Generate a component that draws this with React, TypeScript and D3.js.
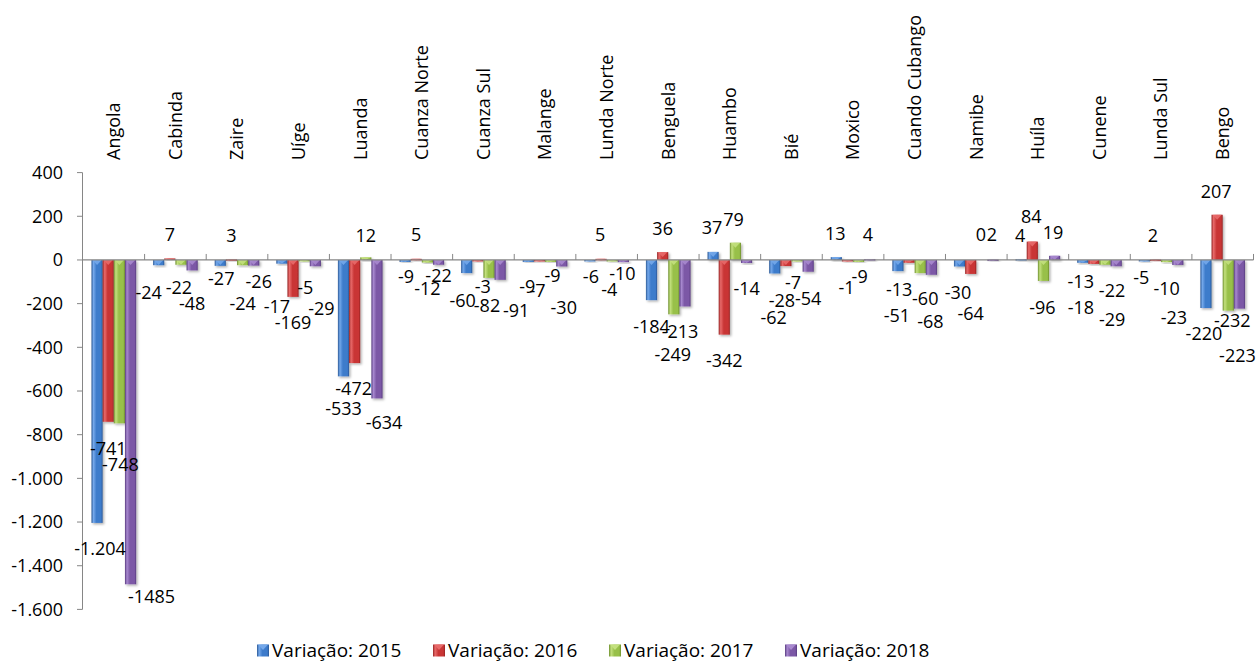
import React from "react";
import * as d3 from "d3";

const categories = [
  "Angola", "Cabinda", "Zaire", "Uíge", "Luanda", "Cuanza Norte", "Cuanza Sul", "Malange",
  "Lunda Norte", "Benguela", "Huambo", "Bié", "Moxico", "Cuando Cubango", "Namibe", "Huíla",
  "Cunene", "Lunda Sul", "Bengo",
];

const seriesNames = ["Variação: 2015", "Variação: 2016", "Variação: 2017", "Variação: 2018"];

const v2015 = [-1204, -24, -27, -17, -533, -9, -60, -9, -6, -184, 37, -62, 13, -51, -30, 4, -13, -5, -220];
const v2016 = [-741, 7, 3, -169, -472, 5, -3, -7, 5, 36, -342, -28, -1, -13, -64, 84, -18, 2, 207];
const v2017 = [-748, -22, -24, -5, 12, -12, -82, -9, -4, -249, 79, -7, -9, -60, 0, -96, -22, -10, -232];
const v2018 = [-1485, -48, -26, -29, -634, -22, -91, -30, -10, -213, -14, -54, 4, -68, 2, 19, -29, -23, -223];

const yTicks = [400, 200, 0, -200, -400, -600, -800, -1000, -1200, -1400, -1600];

// manual label nudges (px) relative to each bar's end, as in the original chart
const nudge2015 = [[3,26],[-10,27],[1,13],[-5,43],[0,32],[1,15],[-4,27.5],[-1,25],[1,15],[0,27],[-1,-24],[-1,44.5],[-1,-23],[-1,45],[-1.5,26.5],[-1,-23],[-2,19],[-3,17],[-2,26]];
const nudge2016 = [[0,27],[0,-23.5],[0,-24],[0,26],[-1,26],[0,-24],[5,26],[-2,29.5],[-1,-24],[0,-23],[0,26],[-4,35],[-1,27.5],[-10,27],[0,40],[-1,-24.7],[-13,44],[-2.5,-23.6],[-1,-23]];
const nudge2017 = [[1,41],[-2,23],[0,38],[1,26.5],[0,-22],[0,26.5],[-2,28],[2,14],[-3,29],[-1,40],[-2,-23],[-4,21],[1,15],[5,26],[-1,-25],[-1,26.7],[7,26],[0,27],[4,10]];
const nudge2018 = [[21,12],[0,33.5],[5,16],[6,42],[7,24.5],[0,11],[16,31],[2,41.5],[-1,12],[-5,25.5],[0,26],[0,27],[-2,-24],[-1,47],[-1,-24.6],[-1.5,-23.2],[-4,53],[-4,53],[-2,47]];

const seriesValues = [v2015, v2016, v2017, v2018];
const seriesNudges = [nudge2015, nudge2016, nudge2017, nudge2018];

const palette = [
  { base: "#3d7bcb", dark: "#2a5896", light: "#74a8ea" },
  { base: "#c93636", dark: "#952222", light: "#e86a6a" },
  { base: "#98c04a", dark: "#6d8f2c", light: "#c3e07e" },
  { base: "#7c58a6", dark: "#573b7f", light: "#a889cf" },
];

const W = 1260;
const H = 671;
const FONT = "'Open Sans', sans-serif";

const locDot = d3.formatLocale({ decimal: ",", thousands: ".", grouping: [3], currency: ["", ""], minus: "-" });
const fmtTick = locDot.format(",d");
const fmtPlain = locDot.format("d");
const labelFormats = [locDot.format(",d"), fmtPlain, fmtPlain, fmtPlain];

export default function App() {
  const x0 = d3.scaleBand<string>().domain(categories).range([83, 1253.5]).paddingInner(0).paddingOuter(0);
  const x1 = d3.scaleBand<string>().domain(seriesNames).range([0, x0.bandwidth()]).paddingInner(0).paddingOuter(0.76);
  const y = d3.scaleLinear().domain([-1600, 400]).range([609.4, 172.6]);
  const y0 = y(0);
  const bw = x1.bandwidth();

  const legendX = d3.scalePoint<string>().domain(seriesNames).range([257, 785]);

  return (
    <svg width={W} height={H} style={{ position: "absolute", left: 0, top: 0, background: "#fff" }} fontFamily={FONT}>
      <defs>
        {palette.map((p, i) => (
          <linearGradient key={i} id={`g${i}`} x1="0" x2="1" y1="0" y2="0">
            <stop offset="0%" stopColor={p.dark} />
            <stop offset="18%" stopColor={p.light} />
            <stop offset="45%" stopColor={p.base} />
            <stop offset="85%" stopColor={p.base} />
            <stop offset="100%" stopColor={p.dark} />
          </linearGradient>
        ))}
        <filter id="sh" x="-50%" y="-50%" width="200%" height="200%">
          <feDropShadow dx="1.5" dy="1.5" stdDeviation="1.2" floodColor="#000" floodOpacity="0.3" />
        </filter>
      </defs>

      {/* value axis */}
      <line x1={82.5} x2={82.5} y1={y(400)} y2={y(-1600)} stroke="#868686" strokeWidth={1} />
      {yTicks.map((t) => (
        <g key={t}>
          <line x1={77} x2={82.5} y1={y(t)} y2={y(t)} stroke="#868686" />
          <text x={63} y={y(t)} dy="0.35em" textAnchor="end" fontSize={18} fill="#000">
            {fmtTick(t)}
          </text>
        </g>
      ))}

      {/* bars */}
      {categories.map((c, ci) => (
        <g key={c}>
          {seriesNames.map((s, si) => {
            const v = seriesValues[si][ci];
            const top = y(Math.max(v, 0));
            const bot = y(Math.min(v, 0));
            const h = Math.max(bot - top, v === 0 ? 0 : 1.5);
            const bx = (x0(c) as number) + (x1(s) as number);
            if (v === 0) return null;
            const th = Math.min(5, h);
            return (
              <g key={s}>
                <rect x={bx} y={top} width={bw} height={h} fill={`url(#g${si})`} filter="url(#sh)" />
                <polygon
                  points={`${bx + 1},${top} ${bx + bw - 1},${top} ${bx + bw / 2},${top + th}`}
                  fill={palette[si].light}
                  opacity={0.9}
                />
              </g>
            );
          })}
        </g>
      ))}

      {/* category axis */}
      <line x1={82.5} x2={1253.5} y1={y0} y2={y0} stroke="#868686" strokeWidth={1.2} />
      {categories.map((c) => (
        <line key={c} x1={(x0(c) as number) + x0.bandwidth()} x2={(x0(c) as number) + x0.bandwidth()} y1={y0 - 6} y2={y0} stroke="#868686" />
      ))}

      {/* category labels */}
      {categories.map((c) => (
        <text
          key={c}
          transform={`translate(${(x0(c) as number) + x0.bandwidth() / 2},160) rotate(-90)`}
          dy="0.35em"
          textAnchor="start"
          fontSize={18}
          fill="#000"
        >
          {c}
        </text>
      ))}

      {/* data labels */}
      {seriesNames.map((s, si) =>
        categories.map((c, ci) => {
          const v = seriesValues[si][ci];
          const [dx, dy] = seriesNudges[si][ci];
          const cx = (x0(c) as number) + (x1(s) as number) + bw / 2;
          return (
            <text key={`${s}-${c}`} x={cx + dx} y={y(v) + dy} dy="0.35em" textAnchor="middle" fontSize={18} fill="#000">
              {labelFormats[si](v)}
            </text>
          );
        })
      )}

      {/* legend */}
      {seriesNames.map((s, si) => {
        const lx = legendX(s) as number;
        return (
          <g key={s}>
            <rect x={lx} y={644.5} width={12} height={12} fill={`url(#g${si})`} />
            <polygon points={`${lx + 1},644.5 ${lx + 11},644.5 ${lx + 6},650`} fill={palette[si].light} />
            <text x={lx + 15} y={650.5} dy="0.35em" fontSize={19} fill="#000">
              {s}
            </text>
          </g>
        );
      })}
    </svg>
  );
}
